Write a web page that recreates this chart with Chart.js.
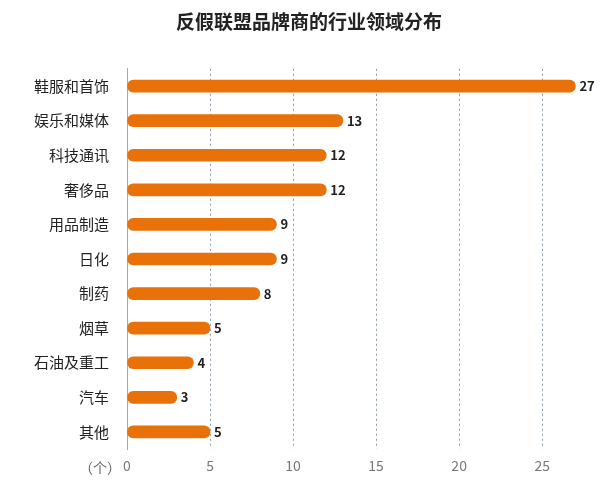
<!DOCTYPE html>
<html><head><meta charset="utf-8">
<script src="https://cdn.jsdelivr.net/npm/chart.js@4"></script>
<style>body{margin:0;background:#fff}#wrap{width:600px;height:490px}</style>
</head><body><div id="wrap"><canvas id="c"></canvas></div>
<script>
const categories = ["鞋服和首饰", "娱乐和媒体", "科技通讯", "奢侈品", "用品制造", "日化", "制药", "烟草", "石油及重工", "汽车", "其他"];
const counts = [27, 13, 12, 12, 9, 9, 8, 5, 4, 3, 5];
const FONT = "'Noto Sans CJK SC', 'Noto Sans', sans-serif";

// 数值标签 + 单位
const extras = {
  id: "extras",
  afterDatasetsDraw(chart) {
    const ctx = chart.ctx;
    const meta = chart.getDatasetMeta(0);
    ctx.save();
    ctx.font = "bold 13px " + FONT;
    ctx.fillStyle = "#222";
    ctx.textBaseline = "middle";
    meta.data.forEach((bar, i) => {
      ctx.fillText(counts[i], bar.x + 4, bar.y);
    });
    const x = chart.scales.x;
    ctx.font = "14px " + FONT;
    ctx.fillStyle = "#666";
    ctx.textAlign = "right";
    ctx.fillText("（个）", x.left - 6, x.bottom - 14);
    ctx.restore();
  }
};

new Chart(document.getElementById("c"), {
  type: "bar",
  data: {
    labels: categories,
    datasets: [{
      data: counts,
      backgroundColor: "#E8710A",
      barThickness: 12,
      borderRadius: 6,
      borderSkipped: false,
    }],
  },
  options: {
    indexAxis: "y",
    animation: false,
    responsive: true,
    maintainAspectRatio: false,
    layout: { padding: { left: 24, right: 6, top: 4, bottom: 8 } },
    plugins: {
      legend: { display: false },
      tooltip: { enabled: false },
      title: {
        display: true,
        text: "反假联盟品牌商的行业领域分布",
        color: "#222",
        font: { family: FONT, size: 19, weight: "bold" },
        padding: { top: 6, bottom: 36 },
      },
    },
    scales: {
      x: {
        min: 0, max: 28,
        ticks: { stepSize: 5, color: "#777", font: { family: FONT, size: 14 }, padding: 8,
          callback: v => (v % 5 === 0 && v <= 25 ? v : "") },
        grid: {
          color: ctx => ctx.tick.value === 0 ? "#aaa" : (ctx.tick.value % 5 === 0 && ctx.tick.value <= 25 ? "#8a9aaa" : "transparent"),
          drawTicks: false,
        },
        border: { display: false, dash: [2, 3] },
      },
      y: {
        ticks: { color: "#222", font: { family: FONT, size: 15 }, padding: 10 },
        grid: { display: false },
        border: { display: true, color: "#aaa" },
      },
    },
  },
  plugins: [extras],
});
</script></body></html>
